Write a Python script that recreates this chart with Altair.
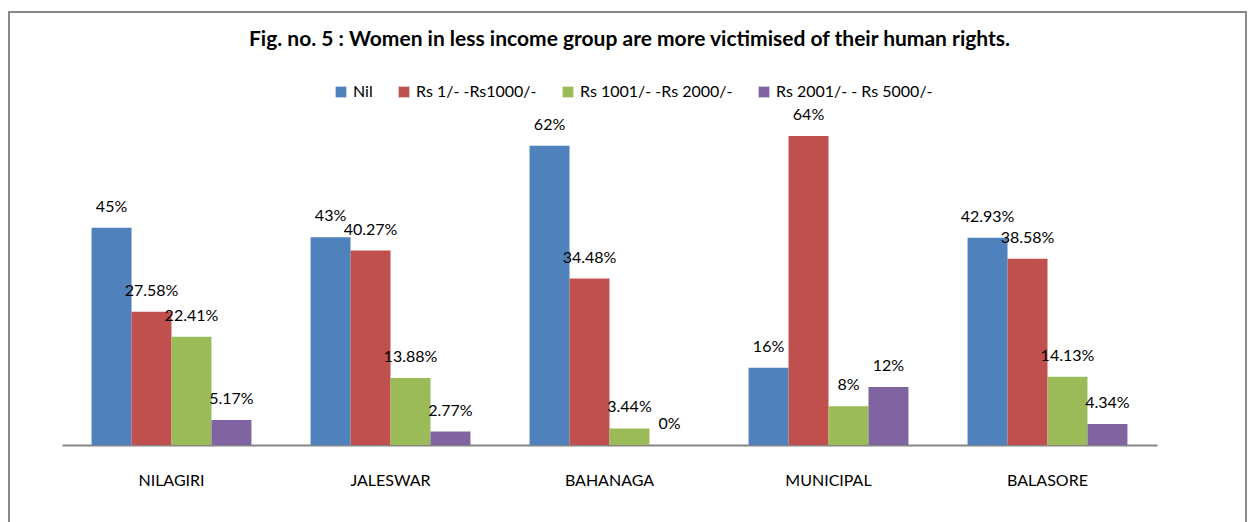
import altair as alt
import pandas as pd

categories = ["NILAGIRI", "JALESWAR", "BAHANAGA", "MUNICIPAL", "BALASORE"]
series = ["Nil", "Rs 1/- -Rs1000/-", "Rs 1001/- -Rs 2000/-", "Rs 2001/- - Rs 5000/-"]
colors = ["#4F81BD", "#C0504D", "#9BBB59", "#8064A2"]

nil = [45, 43, 62, 16, 42.93]
rs_1_1000 = [27.58, 40.27, 34.48, 64, 38.58]
rs_1001_2000 = [22.41, 13.88, 3.44, 8, 14.13]
rs_2001_5000 = [5.17, 2.77, 0, 12, 4.34]

title_text = "Fig. no. 5 : Women in less income group are more victimised of their human rights."

rows = []
for s, vals in zip(series, [nil, rs_1_1000, rs_1001_2000, rs_2001_5000]):
    for c, v in zip(categories, vals):
        rows.append({"category": c, "series": s, "value": v, "label": f"{v:g}%"})
df = pd.DataFrame(rows)

FONT = "Lato"

base = alt.Chart(df).encode(
    x=alt.X(
        "category:N",
        sort=categories,
        scale=alt.Scale(paddingInner=0.27, paddingOuter=0.135),
        axis=alt.Axis(
            title=None, labelAngle=0, ticks=False, domainColor="#868686",
            domainWidth=2, labelPadding=27, labelFontSize=16, labelFont=FONT,
            labelColor="black",
        ),
    ),
    xOffset=alt.XOffset("series:N", sort=series, scale=alt.Scale(paddingInner=0, paddingOuter=0)),
    y=alt.Y("value:Q", scale=alt.Scale(domain=[0, 70]), axis=None),
)

bars = base.mark_bar().encode(
    color=alt.Color(
        "series:N",
        sort=series,
        scale=alt.Scale(domain=series, range=colors),
        legend=alt.Legend(
            title=None, orient="none", legendX=271, legendY=-23, direction="horizontal",
            symbolType="square", symbolSize=115, symbolStrokeWidth=0,
            labelFontSize=16, labelFont=FONT, labelColor="black",
            columnPadding=23, labelOffset=4,
        ),
    )
)

text = base.mark_text(dy=-21, baseline="middle", fontSize=16, font=FONT, color="black").encode(
    text="label:N"
)

border = alt.Chart(pd.DataFrame({"a": [0]})).mark_rect(
    fillOpacity=0, stroke="#888888", strokeWidth=2
).encode(
    x=alt.value(-53), x2=alt.value(1184), y=alt.value(-95), y2=alt.value(430)
)

chart = alt.layer(border, bars, text).properties(
    width=1095,
    height=338,
    autosize="none",
    padding={"left": 54, "top": 99, "right": 90, "bottom": 77},
    title=alt.TitleParams(
        title_text, fontSize=21, font=FONT, fontWeight="bold", color="black",
        anchor="middle", frame="group", dx=20, offset=-39,
    ),
).configure_view(stroke=None)

chart.save("out.html", embed_options={"renderer": "svg", "actions": False})
